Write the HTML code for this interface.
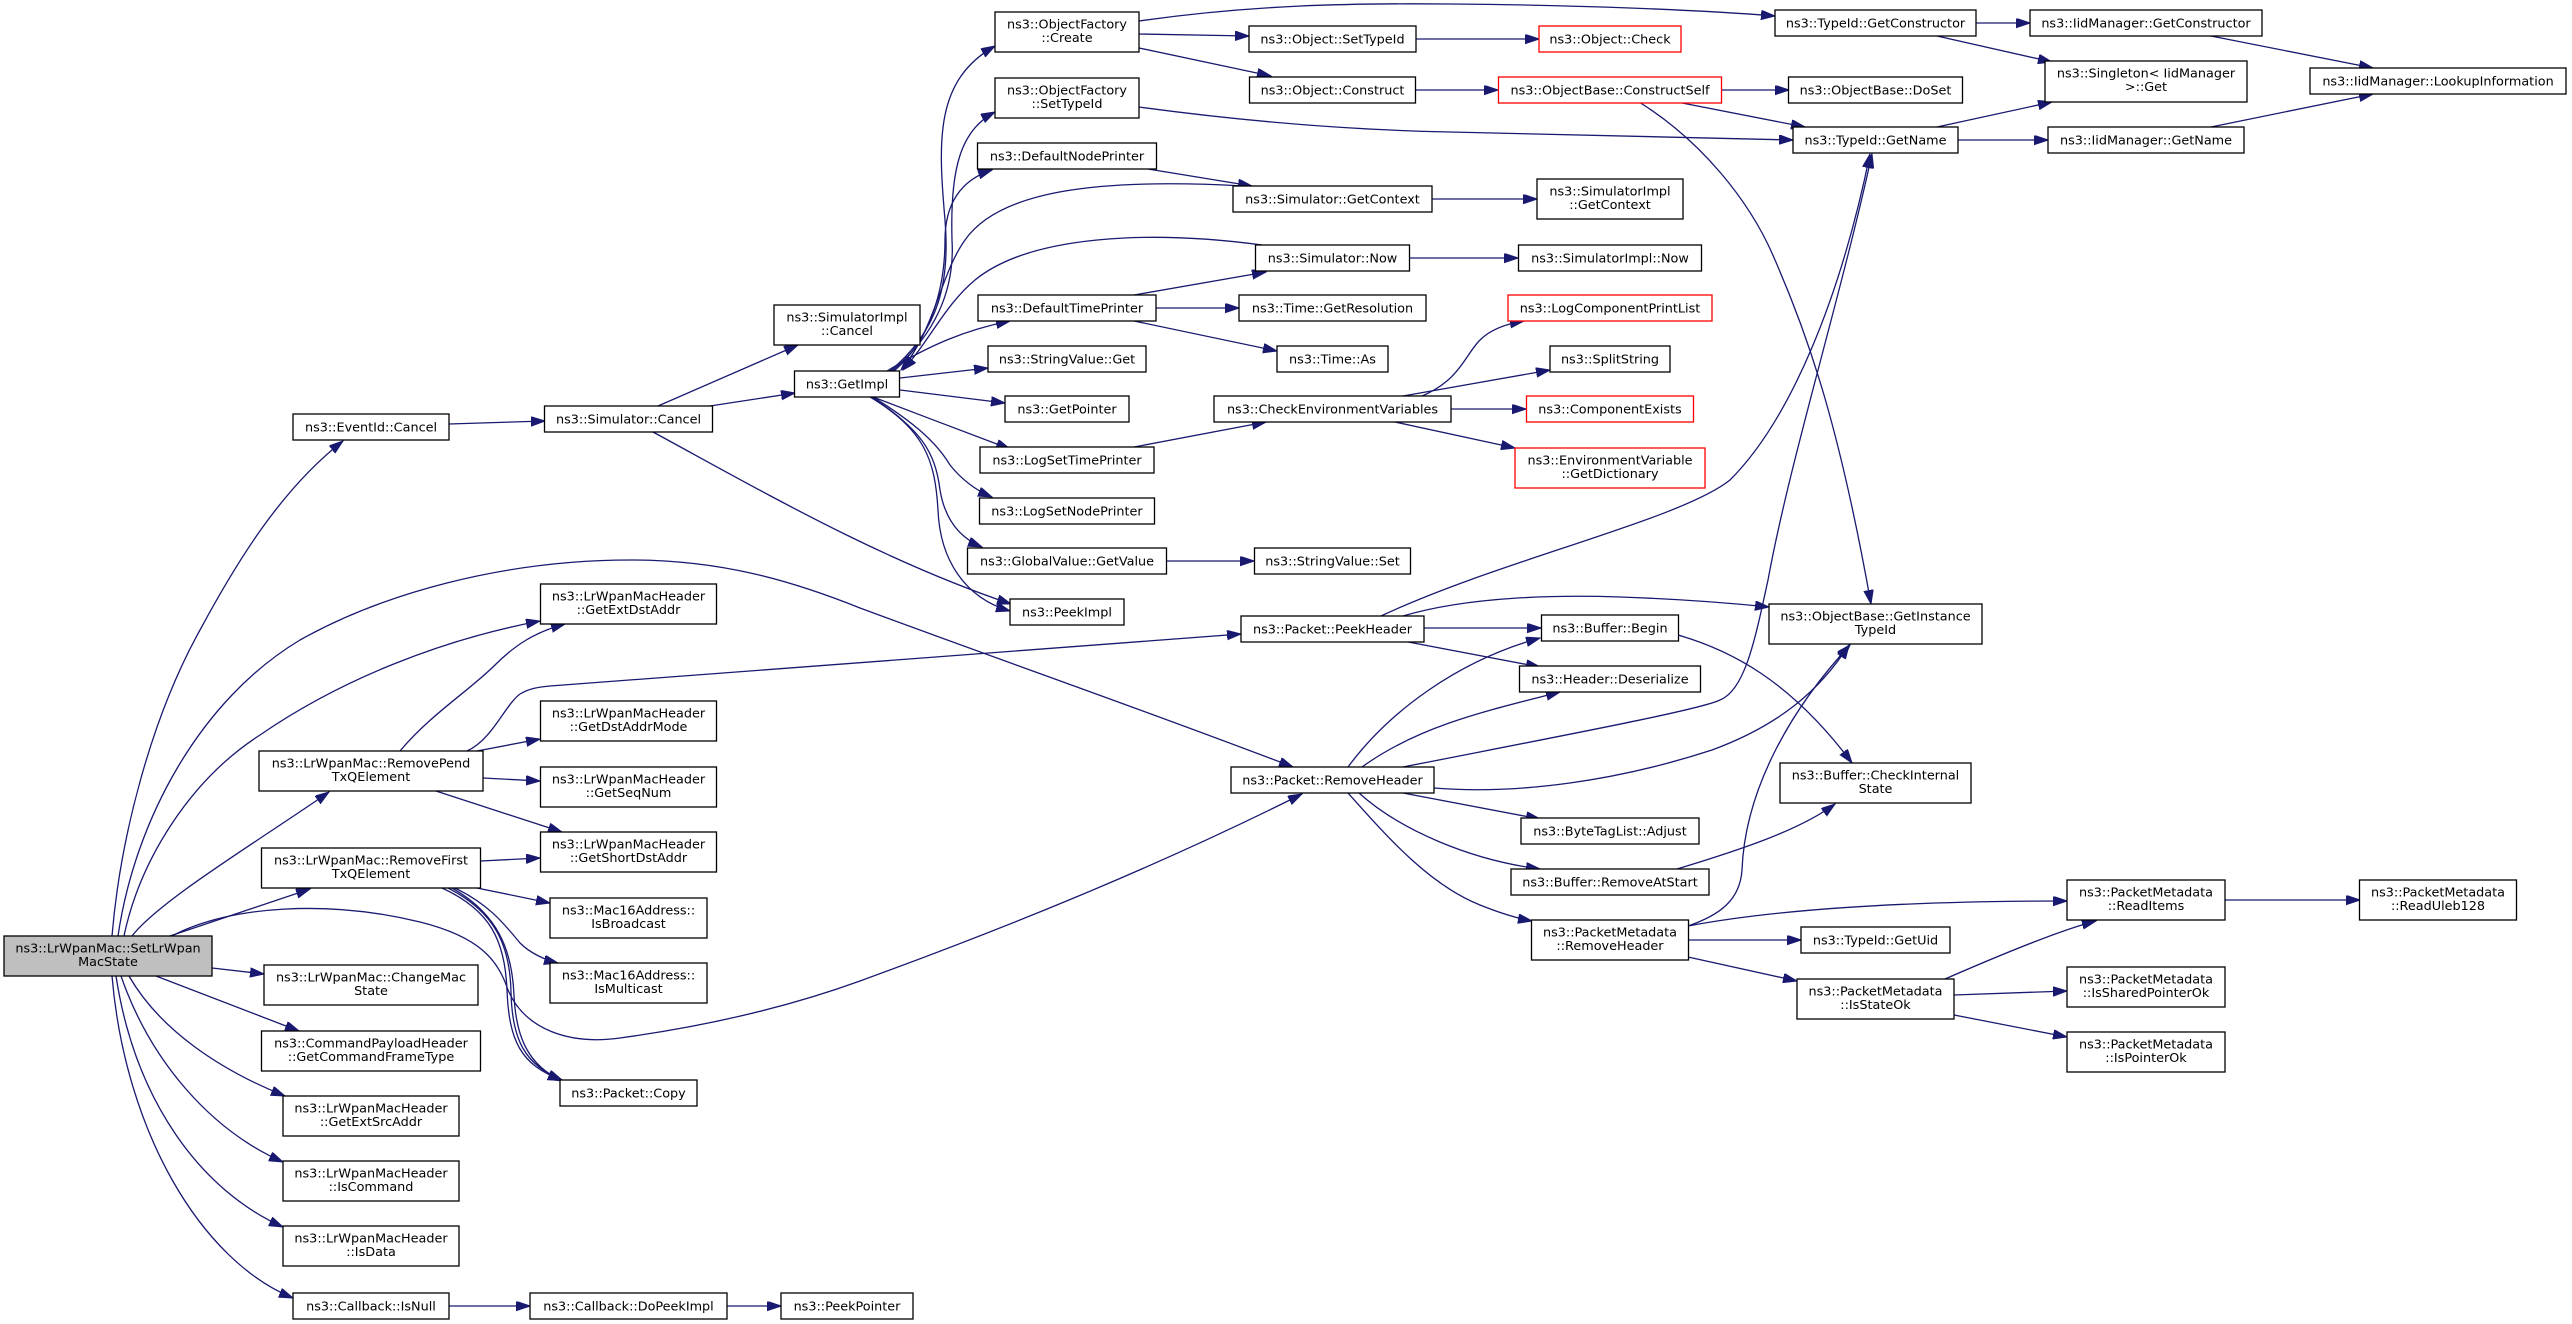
<!DOCTYPE html>
<html><head><meta charset="utf-8"><style>
html,body{margin:0;padding:0;background:#fff;}
svg{display:block;}
.n rect{fill:#fff;stroke:#000;stroke-width:1.3;}
.n rect.g{fill:#bfbfbf;}
.n rect.r{stroke:#ff0000;}
.n text{font-family:"DejaVu Sans","Liberation Sans",sans-serif;font-size:12.8px;fill:#000;text-anchor:middle;}
.e path{fill:none;stroke:#191970;stroke-width:1.3;marker-end:url(#a);}
</style></head><body>
<svg width="2572" height="1324" viewBox="0 0 2572 1324" xmlns="http://www.w3.org/2000/svg">
<defs><marker id="a" markerUnits="userSpaceOnUse" markerWidth="15" markerHeight="10" refX="14" refY="4.75" orient="auto"><path d="M0,0 L14,4.75 L0,9.5 z" fill="#191970" stroke="#191970" stroke-width="1"/></marker></defs>
<rect width="2572" height="1324" fill="#fff"/>
<g class="e">
<!-- SetLrWpanMacState edges -->
<path d="M112,936 C120,840 150,720 200,630 C235,565 280,490 343,441"/>
<path d="M118,936 C135,820 200,700 300,640 C380,595 500,560 631,560 C720,560 790,580 860,608 C1000,660 1150,712 1293,767"/>
<path d="M124,936 C140,860 190,780 260,735 C340,680 440,640 540,621"/>
<path d="M132,936 C160,900 260,840 329,792"/>
<path d="M170,936 L310,889"/>
<path d="M172,936 C230,905 330,900 420,922 C480,937 498,960 508,990 C525,1030 570,1045 620,1038 C700,1027 780,1010 860,981 C1000,930 1150,870 1302,794"/>
<path d="M212,968 L264,974"/>
<path d="M156,976 L299,1031"/>
<path d="M129,976 C160,1030 220,1070 285,1096"/>
<path d="M121,976 C150,1060 210,1130 283,1162"/>
<path d="M116,976 C135,1100 200,1190 283,1227"/>
<path d="M112,976 C125,1130 200,1260 293,1298"/>
<path d="M449,1306 L530,1306"/>
<path d="M727,1306 L781,1306"/>
<!-- EventId / Simulator::Cancel -->
<path d="M449,424 L545,421"/>
<path d="M658,406 L798,345"/>
<path d="M710,406 L795,393"/>
<path d="M653,432 C760,490 880,560 1011,604"/>
<!-- GetImpl edges -->
<path d="M890,371 C940,330 950,280 945,220 C938,140 935,80 995,46"/>
<path d="M892,371 C935,335 955,290 952,240 C950,170 960,130 995,112"/>
<path d="M894,371 C930,340 945,290 945,240 C945,205 960,180 992,170"/>
<path d="M1244,186 C1100,178 1000,190 965,240 C940,275 935,330 901,370"/>
<path d="M1262,245 C1150,230 1030,235 975,280 C945,305 930,340 903,370"/>
<path d="M887,371 C930,345 965,330 1010,321"/>
<path d="M900,378 L988,368"/>
<path d="M900,390 L1005,403"/>
<path d="M873,397 C920,415 960,430 1010,449"/>
<path d="M873,397 C910,420 935,440 950,465 C962,480 975,490 992,497"/>
<path d="M872,397 C920,430 935,450 940,490 C945,520 960,538 982,547"/>
<path d="M870,397 C925,430 935,460 938,510 C940,560 965,598 1010,611"/>
<!-- column 4 -> 5 -->
<path d="M1148,169 L1252,186"/>
<path d="M1134,295 L1266,272"/>
<path d="M1156,308 L1239,308"/>
<path d="M1134,321 L1277,351"/>
<path d="M1134,447 L1266,422"/>
<path d="M1167,561 L1254,561"/>
<path d="M1139,21 C1250,5 1350,3 1450,4 C1580,5 1700,10 1775,16"/>
<path d="M1139,34 L1249,36"/>
<path d="M1139,48 L1271,76"/>
<path d="M1139,107 C1250,122 1350,130 1450,132 C1600,135 1700,137 1793,140"/>
<!-- column 5 -> 6 -->
<path d="M1416,39 L1539,39"/>
<path d="M1415,90 L1498,90"/>
<path d="M1432,199 L1537,199"/>
<path d="M1409,258 L1518,258"/>
<path d="M1422,396 C1460,380 1465,355 1480,340 C1490,330 1505,324 1524,321"/>
<path d="M1403,396 L1550,370"/>
<path d="M1451,409 L1526,409"/>
<path d="M1395,422 L1515,448"/>
<!-- ConstructSelf -->
<path d="M1721,90 L1789,90"/>
<path d="M1677,102 L1805,127"/>
<path d="M1639,102 C1700,140 1750,200 1775,260 C1810,340 1840,430 1871,604"/>
<!-- TypeId / IidManager -->
<path d="M1976,23 L2030,23"/>
<path d="M1937,36 L2052,62"/>
<path d="M2211,36 L2373,68"/>
<path d="M1937,127 L2052,102"/>
<path d="M1958,140 L2048,140"/>
<path d="M2211,127 L2373,94"/>
<!-- RemovePend / RemoveFirst -->
<path d="M467,751 C492,740 505,705 520,694 C530,688 540,687 550,686 L1241,634"/>
<path d="M400,751 C430,715 470,690 495,665 C515,645 535,632 565,624"/>
<path d="M477,751 L540,739"/>
<path d="M483,778 L540,781"/>
<path d="M436,791 L562,832"/>
<path d="M481,861 L540,858"/>
<path d="M477,888 L550,903"/>
<path d="M455,888 C490,905 505,925 520,943 C530,953 545,960 558,963"/>
<path d="M442,888 C490,910 505,940 507,990 C509,1040 520,1065 562,1080"/>
<path d="M448,888 C495,912 510,945 511,992 C512,1040 525,1065 562,1080"/>
<path d="M452,888 C498,914 512,950 514,995 C516,1040 530,1066 562,1081"/>
<!-- Packet::PeekHeader -->
<path d="M1424,628 L1541,628"/>
<path d="M1403,641 L1540,667"/>
<path d="M1381,616 C1500,560 1680,520 1730,480 C1790,420 1840,300 1870,154"/>
<path d="M1403,616 C1470,596 1560,595 1620,597 C1680,599 1730,603 1769,607"/>
<!-- Packet::RemoveHeader -->
<path d="M1403,767 C1550,738 1700,710 1720,700 C1745,690 1755,640 1768,580 C1790,460 1840,300 1872,154"/>
<path d="M1348,767 C1390,710 1460,660 1540,638"/>
<path d="M1362,767 C1420,725 1490,710 1560,692"/>
<path d="M1434,788 C1520,795 1620,780 1712,750 C1780,725 1820,690 1849,645"/>
<path d="M1403,793 L1540,819"/>
<path d="M1359,793 C1400,830 1470,860 1540,869"/>
<path d="M1348,793 C1390,840 1430,885 1480,905 C1500,913 1515,918 1532,921"/>
<!-- Buffer -->
<path d="M1678,635 C1730,650 1790,680 1852,763"/>
<path d="M1677,869 C1740,850 1800,830 1835,804"/>
<!-- PacketMetadata -->
<path d="M1688,926 C1720,915 1740,900 1742,870 C1745,790 1790,710 1850,645"/>
<path d="M1688,926 C1800,905 1950,901 2067,901"/>
<path d="M1688,940 L1801,940"/>
<path d="M1688,957 L1797,981"/>
<path d="M1945,979 C2000,955 2060,930 2096,921"/>
<path d="M1954,995 L2067,991"/>
<path d="M1954,1015 L2067,1037"/>
<path d="M2225,900 L2360,900"/>
</g>
<g class="n">
<!-- col 0 -->
<rect class="g" x="4" y="936" width="208" height="40"/><text x="108" y="952.5">ns3::LrWpanMac::SetLrWpan</text><text x="108" y="966">MacState</text>
<!-- col 1 -->
<rect x="293" y="414" width="156" height="26"/><text x="371" y="431.5">ns3::EventId::Cancel</text>
<rect x="259" y="751" width="224" height="40"/><text x="371" y="767.5">ns3::LrWpanMac::RemovePend</text><text x="371" y="781">TxQElement</text>
<rect x="261.5" y="848" width="219" height="40"/><text x="371" y="864.5">ns3::LrWpanMac::RemoveFirst</text><text x="371" y="878">TxQElement</text>
<rect x="264" y="965" width="214" height="40"/><text x="371" y="981.5">ns3::LrWpanMac::ChangeMac</text><text x="371" y="995">State</text>
<rect x="261.5" y="1031" width="219" height="40"/><text x="371" y="1047.5">ns3::CommandPayloadHeader</text><text x="371" y="1061">::GetCommandFrameType</text>
<rect x="283" y="1096" width="176" height="40"/><text x="371" y="1112.5">ns3::LrWpanMacHeader</text><text x="371" y="1126">::GetExtSrcAddr</text>
<rect x="283" y="1161" width="176" height="40"/><text x="371" y="1177.5">ns3::LrWpanMacHeader</text><text x="371" y="1191">::IsCommand</text>
<rect x="283" y="1226" width="176" height="40"/><text x="371" y="1242.5">ns3::LrWpanMacHeader</text><text x="371" y="1256">::IsData</text>
<rect x="293" y="1293" width="156" height="26"/><text x="371" y="1310.5">ns3::Callback::IsNull</text>
<!-- col 2 -->
<rect x="544.5" y="406" width="168" height="26"/><text x="628.5" y="423.5">ns3::Simulator::Cancel</text>
<rect x="540.5" y="584" width="176" height="40"/><text x="628.5" y="600.5">ns3::LrWpanMacHeader</text><text x="628.5" y="614">::GetExtDstAddr</text>
<rect x="540.5" y="701" width="176" height="40"/><text x="628.5" y="717.5">ns3::LrWpanMacHeader</text><text x="628.5" y="731">::GetDstAddrMode</text>
<rect x="540.5" y="767" width="176" height="40"/><text x="628.5" y="783.5">ns3::LrWpanMacHeader</text><text x="628.5" y="797">::GetSeqNum</text>
<rect x="540.5" y="832" width="176" height="40"/><text x="628.5" y="848.5">ns3::LrWpanMacHeader</text><text x="628.5" y="862">::GetShortDstAddr</text>
<rect x="550" y="898" width="157" height="40"/><text x="628.5" y="914.5">ns3::Mac16Address::</text><text x="628.5" y="928">IsBroadcast</text>
<rect x="550" y="963" width="157" height="40"/><text x="628.5" y="979.5">ns3::Mac16Address::</text><text x="628.5" y="993">IsMulticast</text>
<rect x="560" y="1080" width="137" height="26"/><text x="628.5" y="1097.5">ns3::Packet::Copy</text>
<rect x="530" y="1293" width="197" height="26"/><text x="628.5" y="1310.5">ns3::Callback::DoPeekImpl</text>
<!-- col 3 -->
<rect x="774" y="305" width="146" height="40"/><text x="847" y="321.5">ns3::SimulatorImpl</text><text x="847" y="335">::Cancel</text>
<rect x="794.5" y="371" width="105" height="26"/><text x="847" y="388.5">ns3::GetImpl</text>
<rect x="781" y="1293" width="132" height="26"/><text x="847" y="1310.5">ns3::PeekPointer</text>
<!-- col 4 -->
<rect x="995" y="12" width="144" height="40"/><text x="1067" y="28.5">ns3::ObjectFactory</text><text x="1067" y="42">::Create</text>
<rect x="995" y="78" width="144" height="40"/><text x="1067" y="94.5">ns3::ObjectFactory</text><text x="1067" y="108">::SetTypeId</text>
<rect x="977.5" y="143" width="179" height="26"/><text x="1067" y="160.5">ns3::DefaultNodePrinter</text>
<rect x="978" y="295" width="178" height="26"/><text x="1067" y="312.5">ns3::DefaultTimePrinter</text>
<rect x="988" y="346" width="158" height="26"/><text x="1067" y="363.5">ns3::StringValue::Get</text>
<rect x="1005" y="396" width="124" height="26"/><text x="1067" y="413.5">ns3::GetPointer</text>
<rect x="980" y="447" width="174" height="26"/><text x="1067" y="464.5">ns3::LogSetTimePrinter</text>
<rect x="979.5" y="498" width="175" height="26"/><text x="1067" y="515.5">ns3::LogSetNodePrinter</text>
<rect x="967.5" y="548" width="199" height="26"/><text x="1067" y="565.5">ns3::GlobalValue::GetValue</text>
<rect x="1010" y="599" width="114" height="26"/><text x="1067" y="616.5">ns3::PeekImpl</text>
<!-- col 5 -->
<rect x="1249" y="26" width="167" height="26"/><text x="1332.5" y="43.5">ns3::Object::SetTypeId</text>
<rect x="1249.5" y="77" width="166" height="26"/><text x="1332.5" y="94.5">ns3::Object::Construct</text>
<rect x="1233" y="186" width="199" height="26"/><text x="1332.5" y="203.5">ns3::Simulator::GetContext</text>
<rect x="1255.5" y="245" width="154" height="26"/><text x="1332.5" y="262.5">ns3::Simulator::Now</text>
<rect x="1239" y="295" width="187" height="26"/><text x="1332.5" y="312.5">ns3::Time::GetResolution</text>
<rect x="1277" y="346" width="111" height="26"/><text x="1332.5" y="363.5">ns3::Time::As</text>
<rect x="1214" y="396" width="237" height="26"/><text x="1332.5" y="413.5">ns3::CheckEnvironmentVariables</text>
<rect x="1254.5" y="548" width="156" height="26"/><text x="1332.5" y="565.5">ns3::StringValue::Set</text>
<rect x="1241" y="616" width="183" height="26"/><text x="1332.5" y="633.5">ns3::Packet::PeekHeader</text>
<rect x="1231" y="767" width="203" height="26"/><text x="1332.5" y="784.5">ns3::Packet::RemoveHeader</text>
<!-- col 6 -->
<rect class="r" x="1539" y="26" width="142" height="26"/><text x="1610" y="43.5">ns3::Object::Check</text>
<rect class="r" x="1498.5" y="77" width="223" height="26"/><text x="1610" y="94.5">ns3::ObjectBase::ConstructSelf</text>
<rect x="1537" y="179" width="146" height="40"/><text x="1610" y="195.5">ns3::SimulatorImpl</text><text x="1610" y="209">::GetContext</text>
<rect x="1518.5" y="245" width="183" height="26"/><text x="1610" y="262.5">ns3::SimulatorImpl::Now</text>
<rect class="r" x="1508" y="295" width="204" height="26"/><text x="1610" y="312.5">ns3::LogComponentPrintList</text>
<rect x="1550" y="346" width="120" height="26"/><text x="1610" y="363.5">ns3::SplitString</text>
<rect class="r" x="1526.5" y="396" width="167" height="26"/><text x="1610" y="413.5">ns3::ComponentExists</text>
<rect class="r" x="1515" y="448" width="190" height="40"/><text x="1610" y="464.5">ns3::EnvironmentVariable</text><text x="1610" y="478">::GetDictionary</text>
<rect x="1541.5" y="615" width="137" height="26"/><text x="1610" y="632.5">ns3::Buffer::Begin</text>
<rect x="1519.5" y="666" width="181" height="26"/><text x="1610" y="683.5">ns3::Header::Deserialize</text>
<rect x="1521" y="818" width="178" height="26"/><text x="1610" y="835.5">ns3::ByteTagList::Adjust</text>
<rect x="1511" y="869" width="198" height="26"/><text x="1610" y="886.5">ns3::Buffer::RemoveAtStart</text>
<rect x="1531.5" y="920" width="157" height="40"/><text x="1610" y="936.5">ns3::PacketMetadata</text><text x="1610" y="950">::RemoveHeader</text>
<!-- col 7 -->
<rect x="1775" y="10" width="201" height="26"/><text x="1875.5" y="27.5">ns3::TypeId::GetConstructor</text>
<rect x="1788.5" y="77" width="174" height="26"/><text x="1875.5" y="94.5">ns3::ObjectBase::DoSet</text>
<rect x="1793" y="127" width="165" height="26"/><text x="1875.5" y="144.5">ns3::TypeId::GetName</text>
<rect x="1769" y="604" width="213" height="40"/><text x="1875.5" y="620.5">ns3::ObjectBase::GetInstance</text><text x="1875.5" y="634">TypeId</text>
<rect x="1780" y="763" width="191" height="40"/><text x="1875.5" y="779.5">ns3::Buffer::CheckInternal</text><text x="1875.5" y="793">State</text>
<rect x="1801" y="927" width="149" height="26"/><text x="1875.5" y="944.5">ns3::TypeId::GetUid</text>
<rect x="1797" y="979" width="157" height="40"/><text x="1875.5" y="995.5">ns3::PacketMetadata</text><text x="1875.5" y="1009">::IsStateOk</text>
<!-- col 8 -->
<rect x="2030" y="10" width="232" height="26"/><text x="2146" y="27.5">ns3::IidManager::GetConstructor</text>
<rect x="2045" y="61" width="202" height="41"/><text x="2146" y="77.5">ns3::Singleton&lt; IidManager</text><text x="2146" y="91">&gt;::Get</text>
<rect x="2048" y="127" width="196" height="26"/><text x="2146" y="144.5">ns3::IidManager::GetName</text>
<rect x="2067" y="880" width="158" height="40"/><text x="2146" y="896.5">ns3::PacketMetadata</text><text x="2146" y="910">::ReadItems</text>
<rect x="2067" y="967" width="158" height="40"/><text x="2146" y="983.5">ns3::PacketMetadata</text><text x="2146" y="997">::IsSharedPointerOk</text>
<rect x="2067" y="1032" width="158" height="40"/><text x="2146" y="1048.5">ns3::PacketMetadata</text><text x="2146" y="1062">::IsPointerOk</text>
<!-- col 9 -->
<rect x="2310" y="68" width="256" height="26"/><text x="2438" y="85.5">ns3::IidManager::LookupInformation</text>
<rect x="2359.5" y="880" width="157" height="40"/><text x="2438" y="896.5">ns3::PacketMetadata</text><text x="2438" y="910">::ReadUleb128</text>
</g>
</svg>
</body></html>
